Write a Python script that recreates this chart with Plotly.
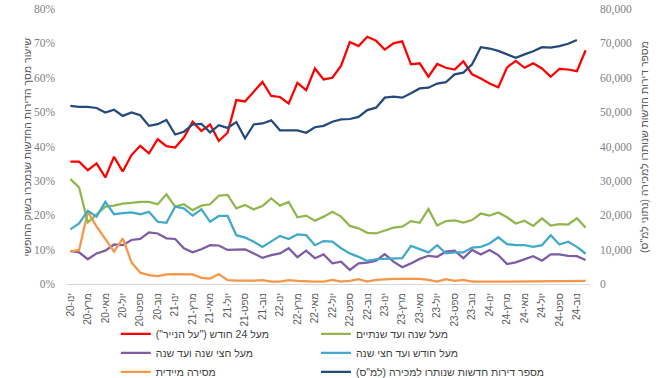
import plotly.graph_objects as go

RLM = "\u200F"

months_he = ['ינו', 'פבר', 'מרץ', 'אפר', 'מאי', 'יונ', 'יול', 'אוג', 'ספט', 'אוק', 'נוב', 'דצמ']
years = ['20', '21', '22', '23', '24']
periods = [f"{m}-{y}" for y in years for m in months_he]
tick_labels = periods[::2]

over_24m = [35.6, 35.6, 33.1, 35.1, 31.0, 37.0, 32.7, 37.5, 40.2, 38.0,
            42.1, 40.1, 39.7, 42.6, 47.2, 44.5, 46.4, 41.6, 44.0, 53.5,
            53.1, 55.9, 58.8, 54.7, 54.4, 52.5, 58.5, 56.4, 62.7, 59.5,
            60.0, 63.5, 70.4, 69.2, 71.9, 70.8, 68.2, 70.0, 70.6, 63.9,
            64.2, 60.3, 64.0, 62.9, 62.4, 64.8, 61.0, 59.8, 58.3, 57.2,
            63.0, 64.9, 62.9, 64.2, 62.7, 60.3, 62.6, 62.4, 61.9, 68.0]

y1_to_2 = [30.5, 28.1, 17.9, 20.1, 22.5, 22.8, 23.4, 23.6, 23.9, 23.9,
           23.2, 26.1, 22.5, 23.2, 21.5, 22.8, 23.2, 25.7, 25.9, 22.0,
           23.0, 21.7, 22.7, 24.9, 22.8, 23.9, 19.4, 19.9, 18.4, 19.6,
           21.0, 19.6, 16.9, 16.2, 14.9, 14.7, 15.5, 16.4, 16.7, 18.3,
           17.8, 21.8, 17.0, 18.3, 18.5, 17.9, 18.6, 20.5, 19.9, 20.8,
           19.4, 17.6, 18.4, 16.9, 19.1, 17.0, 17.4, 17.3, 19.1, 16.4]

m1_to_6 = [15.9, 17.6, 21.3, 19.6, 23.9, 20.3, 20.6, 20.8, 20.3, 21.0,
           18.1, 17.8, 22.5, 22.0, 19.9, 21.7, 18.1, 19.8, 19.8, 14.2,
           13.5, 12.3, 10.8, 12.5, 14.0, 13.1, 14.4, 14.2, 11.3, 12.5,
           12.3, 10.4, 8.9, 7.9, 6.7, 7.2, 7.3, 7.3, 7.5, 11.1,
           10.2, 9.2, 11.3, 8.9, 9.2, 9.2, 10.6, 10.8, 11.8, 13.6,
           11.6, 11.3, 11.3, 10.8, 11.3, 14.2, 11.5, 12.3, 10.8, 8.8]

m6_to_12 = [9.6, 9.2, 7.2, 8.9, 9.7, 11.5, 11.3, 12.8, 13.1, 15.0,
            14.7, 13.3, 13.1, 10.4, 9.2, 10.1, 11.3, 11.2, 9.9, 9.9,
            10.1, 8.9, 7.6, 8.4, 8.9, 10.4, 7.8, 9.7, 7.5, 8.6,
            6.0, 6.5, 4.1, 6.0, 6.2, 6.8, 8.7, 6.5, 4.9, 6.0,
            7.3, 8.2, 7.9, 9.4, 9.7, 7.5, 9.9, 8.6, 9.9, 8.4,
            5.8, 6.3, 7.3, 8.1, 6.8, 8.6, 8.6, 8.2, 8.1, 7.0]

immediate = [9.4, 9.9, 21.0, 16.7, 13.1, 9.4, 13.3, 6.3, 3.3, 2.6,
             2.3, 2.8, 2.9, 2.9, 2.8, 1.8, 1.6, 2.9, 1.1, 1.0,
             0.9, 1.0, 1.1, 0.7, 0.7, 1.1, 0.9, 0.7, 0.7, 0.7,
             1.2, 0.7, 0.9, 1.4, 0.7, 1.2, 1.4, 1.5, 1.5, 1.6,
             1.5, 1.2, 0.7, 1.4, 0.9, 1.2, 0.7, 0.7, 0.8, 0.7,
             0.7, 0.7, 0.8, 0.7, 0.7, 0.7, 0.7, 0.9, 0.7, 0.9]

unsold_cbs = [51800, 51500, 51500, 51200, 49900, 50700, 48900, 49900, 49100, 46000,
              46500, 47700, 43500, 44300, 46400, 46600, 44100, 46200, 45400, 47100,
              42400, 46400, 46700, 47600, 44700, 44700, 44700, 44000, 45600, 46000,
              47200, 47900, 48000, 48600, 50600, 51300, 54200, 54500, 54200, 55500,
              56900, 57100, 58300, 58700, 61000, 61500, 63900, 68900, 68500, 67800,
              66900, 65800, 66800, 67700, 68900, 68800, 69200, 69900, 71000, None]

names = {
    'over24': 'מעל 24 חודש ("על הנייר")',
    'y1to2': 'מעל שנה ועד שנתיים',
    'm6to12': 'מעל חצי שנה ועד שנה',
    'm1to6': 'מעל חודש ועד חצי שנה',
    'imm': 'מסירה מיידית',
    'cbs': 'מספר דירות חדשות שנותרו למכירה (למ"ס)',
}
colors = {
    'over24': '#FF0000',
    'y1to2': '#92B54E',
    'm6to12': '#7D5CA3',
    'm1to6': '#41A9C9',
    'imm': '#F79646',
    'cbs': '#234A7B',
}

fig = go.Figure()

def add(key, vals, legend, yaxis='y'):
    fig.add_trace(go.Scatter(
        x=periods, y=vals, mode='lines', name=RLM + names[key] + RLM,
        line=dict(color=colors[key], width=2.25), legend=legend, yaxis=yaxis,
        connectgaps=False, hoverinfo='skip'))

add('over24', over_24m, 'legend')
add('m6to12', m6_to_12, 'legend')
add('imm', immediate, 'legend')
add('y1to2', y1_to_2, 'legend2')
add('m1to6', m1_to_6, 'legend2')
add('cbs', unsold_cbs, 'legend2', 'y2')

tick_font = dict(family='Liberation Serif, Times New Roman, serif', size=11.5, color='#7F7F7F')
he_font = 'Arial, Liberation Sans, DejaVu Sans, sans-serif'

fig.update_layout(
    width=670, height=378,
    margin=dict(l=66, r=80, t=9, b=94, autoexpand=False),
    paper_bgcolor='white', plot_bgcolor='white',
    showlegend=True,
    xaxis=dict(type='category', range=[-0.5, 59.5], tickmode='array',
               tickvals=tick_labels, ticktext=tick_labels, tickangle=-90,
               tickfont=dict(family=he_font, size=10, color='#595959'),
               showgrid=False, zeroline=False, showline=True,
               linecolor='#D9D9D9', linewidth=1, ticks='', ticklabelstandoff=4),
    yaxis=dict(range=[0, 80], dtick=10, ticksuffix='%', showgrid=False,
               zeroline=False, showline=False, ticks='', tickfont=tick_font,
               ticklabelstandoff=10, ticklabeloverflow='allow'),
    yaxis2=dict(range=[0, 80000], dtick=10000, tickformat=',', overlaying='y',
                side='right', showgrid=False, zeroline=False, showline=False,
                ticks='', tickfont=tick_font, ticklabelstandoff=9,
                ticklabeloverflow='allow'),
    legend=dict(x=0.095, y=-0.129, xanchor='left', yanchor='top',
                orientation='v', tracegroupgap=0,
                font=dict(family=he_font, size=10.5, color='#404040'),
                bgcolor='rgba(0,0,0,0)'),
    legend2=dict(x=0.477, y=-0.129, xanchor='left', yanchor='top',
                 orientation='v', tracegroupgap=0,
                 font=dict(family=he_font, size=10.5, color='#404040'),
                 bgcolor='rgba(0,0,0,0)'),
    annotations=[
        dict(text='שיעור מסך הדירות החדשות שנמכרו בשוק החופשי',
             xref='paper', yref='paper', x=-0.0745, y=0.5, textangle=-90,
             showarrow=False, xanchor='center', yanchor='middle',
             font=dict(family=he_font, size=10.5, color='#595959')),
        dict(text=RLM + 'מספר דירות חדשות שנותרו למכירה (נתוני למ"ס)' + RLM,
             xref='paper', yref='paper', x=1.102, y=0.5, textangle=-90,
             showarrow=False, xanchor='center', yanchor='middle',
             font=dict(family=he_font, size=10.5, color='#595959')),
    ],
)

fig.write_html('out.html', config={'displayModeBar': False},
               post_script="document.body.style.margin='0px';")
